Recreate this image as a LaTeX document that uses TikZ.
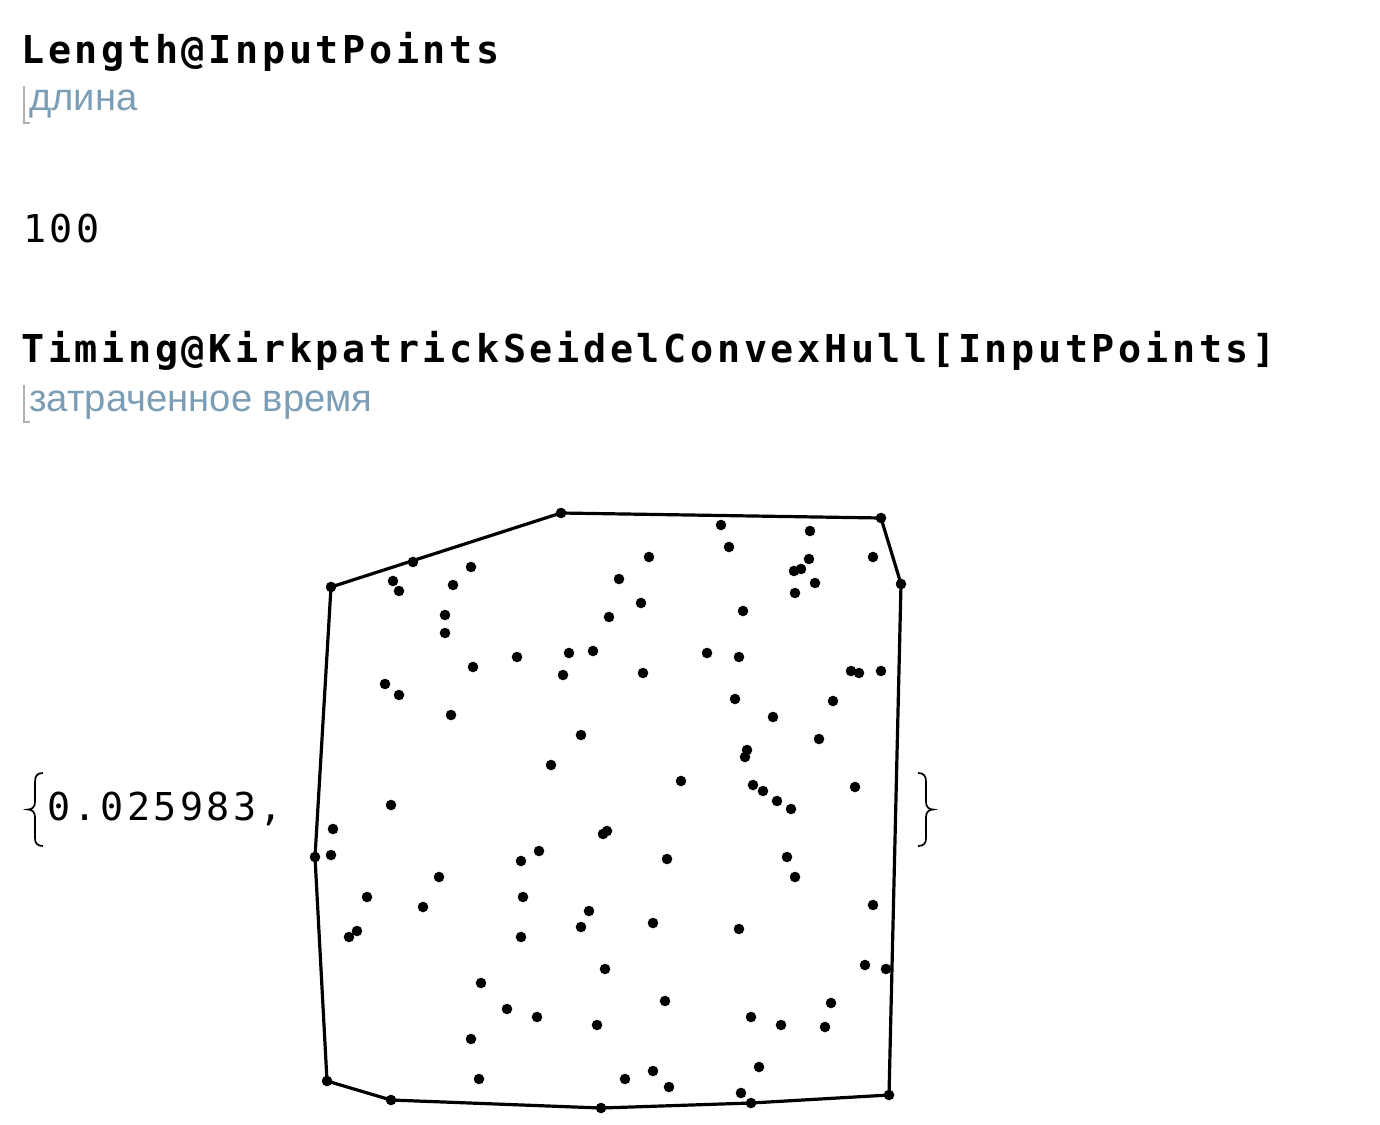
\documentclass[tikz,border=0pt]{standalone}
\usepackage{fontspec}
\newfontfamily\inputfont[LetterSpace=9.5]{DejaVu Sans Mono}
\newfontfamily\outfont[LetterSpace=9]{DejaVu Sans Mono}
\newfontfamily\labelfont{Liberation Sans}
\definecolor{labelblue}{HTML}{7B9EB6}
\definecolor{markgray}{HTML}{B0B0B0}
\tikzset{
  incode/.style={anchor=base west, inner sep=0pt, font=\inputfont\bfseries\fontsize{19.2pt}{22pt}\selectfont},
  outcode/.style={anchor=base west, inner sep=0pt, font=\outfont\fontsize{19.2pt}{22pt}\selectfont},
  hint/.style={anchor=base west, inner sep=0pt, text=labelblue, font=\labelfont\fontsize{19.1pt}{22pt}\selectfont},
  hintmark/.style={draw=markgray, line width=0.6pt},
  hull/.style={draw=black, line width=1.6pt, line join=round},
  dot/.style={fill=black},
  bracepath/.style={draw=black, line width=0.85pt},
}
\begin{document}
\begin{tikzpicture}[x=0.5pt,y=-0.5pt]
\useasboundingbox (0,0) rectangle (1380,1124);
% texts
\node[incode] (in1) at (21,63) {Length@InputPoints};
\node[hint] (h1) at (29,110) {длина};
\draw[hintmark] (24,86) -- (24,123) -- (30,123);
\node[outcode] (out1) at (23,242) {100};
\node[incode] (in2) at (21,362) {Timing@KirkpatrickSeidelConvexHull[InputPoints]};
\node[hint] (h2) at (29,411) {затраченное время};
\draw[hintmark] (24,385) -- (24,422) -- (30,422);
\node[outcode] (out2) at (47,820) {0.025983,};
% braces
\draw[bracepath] (43,773) .. controls (37,773) and (35,776) .. (35,782) -- (35,802)
  .. controls (35,807) and (32,809.5) .. (28,809.5)
  .. controls (32,809.5) and (35,812) .. (35,817) -- (35,838)
  .. controls (35,843) and (37,846) .. (43,846);
\draw[bracepath] (918,773) .. controls (924,773) and (926,776) .. (926,782) -- (926,802)
  .. controls (926,807) and (929,809.5) .. (933,809.5)
  .. controls (929,809.5) and (926,812) .. (926,817) -- (926,838)
  .. controls (926,843) and (924,846) .. (918,846);
% hull vertices
\coordinate (v1) at (561,513);
\coordinate (v2) at (881,518);
\coordinate (v3) at (901,584);
\coordinate (v4) at (889,1095);
\coordinate (v5) at (751,1103);
\coordinate (v6) at (601,1108);
\coordinate (v7) at (391,1100);
\coordinate (v8) at (327,1081);
\coordinate (v9) at (315,857);
\coordinate (v10) at (331,587);
\draw[hull] (v1) -- (v2) -- (v3) -- (v4) -- (v5) -- (v6) -- (v7) -- (v8) -- (v9) -- (v10) -- cycle;
\foreach \i in {1,...,10} \fill[dot] (v\i) circle (5.3);
% interior points
\foreach \p in {
 (413,562),(471,567),(393,581),(399,591),(453,585),(445,615),(445,633),(609,617),
 (517,657),(569,653),(593,651),(473,667),(563,675),(385,684),(399,695),(451,715),
 (581,735),(551,765),(391,805),
 (721,525),(810,531),(649,557),(729,547),(873,557),(809,559),(794,571),(801,569),
 (619,579),(815,583),(795,593),(641,603),(743,611),(707,653),(739,657),(643,673),
 (851,671),(859,673),(881,671),(735,699),(833,701),(773,717),(819,739),(747,750),
 (745,757),(681,781),(855,787),(753,785),(763,791),(777,801),(791,809),
 (333,829),(331,855),(603,834),(607,831),(539,851),(521,861),(439,877),(367,897),
 (523,897),(423,907),(589,911),(581,927),(357,931),(349,937),(521,937),(605,969),
 (481,983),(507,1009),(537,1017),(597,1025),(471,1039),(479,1079),
 (667,859),(787,857),(795,877),(873,905),(653,923),(739,929),(865,965),(886,969),
 (665,1001),(831,1003),(751,1017),(781,1025),(825,1027),(759,1067),(625,1079),
 (653,1071),(669,1087),(741,1093)}
 \fill[dot] \p circle (5.3);
\end{tikzpicture}
\end{document}
